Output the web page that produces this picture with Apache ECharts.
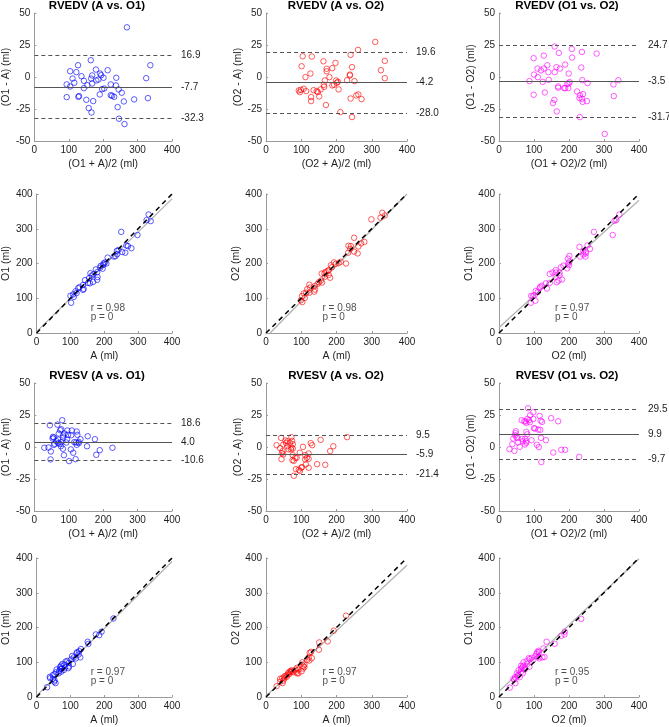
<!DOCTYPE html>
<html lang="en">

<head>
    <meta charset="UTF-8">
    <title>RVEDV / RVESV agreement</title>
    <style>
        body { margin: 0; background: #fff; }
        #main { width: 669px; height: 727px; }
    </style>
</head>

<body>
    <div id="main"></div>

    <script src="https://cdn.jsdelivr.net/npm/echarts/dist/echarts.min.js"></script>
    <script>
        // ---- data ----
        // Bland-Altman, RVEDV: [mean, difference]
        var edvBaAO1 = [[269,38.8],[337,9.2],[127,9.2],[164,13.1],[104,4.5],[122,3.8],[179,5.8],[213,5.3],[191,2.7],[194,1.4],
            [168,1.2],[137,0.6],[111,-1.2],[165,-1.2],[201,-0.6],[238,-0.6],[325,-0.9],[144,-3],[180,-2.7],[186,-2],
            [116,-4.5],[94,-5.8],[104,-7.4],[154,-6.4],[168,-5.1],[222,-5.8],[237,-6.6],[144,-8.7],[203,-9],[197,-9.5],
            [245,-9.7],[254,-12.3],[190,-13.6],[222,-14.2],[226,-14.7],[232,-15.5],[130,-14.9],[128,-15.5],[94,-15.7],[330,-16.5],
            [290,-17.5],[151,-17.8],[171,-18.8],[260,-19.1],[158,-24.3],[242,-23.5],[166,-27.7],[246,-32.6],[262,-36.8]];
        var edvBaAO2 = [[310,27.4],[261,21.2],[240,17.3],[337,12.6],[104,16.2],[130,16],[163,12.3],[197,11],[101,8.4],[244,7.7],
            [188,6.9],[326,5.3],[172,6.4],[172,4.5],[126,2.7],[238,1.9],[238,1.2],[112,-0.1],[180,-0.1],[337,-0.9],
            [167,-2.7],[230,-2.5],[199,-2.7],[204,-3.8],[251,-3.2],[201,-4.5],[164,-6.1],[188,-6.6],[193,-6.1],[165,-7.7],
            [107,-9.2],[155,-9.7],[206,-9.7],[93,-10.5],[99,-10],[135,-10.3],[114,-11],[144,-11],[147,-11.8],[96,-11.8],
            [262,-13.6],[256,-14.4],[128,-15.7],[151,-15.2],[240,-16.8],[271,-17.3],[128,-18.8],[170,-21.9],[211,-27.4],[244,-31.3]];
        var edvBaO1O2 = [[159,23.8],[208,21.9],[237,19.6],[279,18.3],[171,18.8],[128,16.7],[99,14.7],[209,15.2],[189,9.7],[138,9.2],
            [235,7.4],[164,7.7],[174,6.6],[110,6.6],[128,6.6],[120,5.1],[141,3.8],[159,3.8],[199,2.7],[100,1.9],
            [111,-0.1],[142,-2.2],[238,-2.5],[341,-2.5],[87,-3.2],[125,-3.8],[202,-4],[199,-5.1],[253,-4.8],[195,-5.3],
            [327,-5.8],[169,-7.4],[169,-8.4],[186,-8.7],[189,-8.7],[198,-8.7],[131,-12.1],[223,-11.3],[240,-13.4],[231,-14.2],
            [99,-13.9],[328,-14.9],[230,-16.5],[237,-17],[158,-17.8],[251,-18.8],[239,-19.4],[154,-20.4],[165,-26.9],[231,-31.3],
            [302,-44.5]];

        // Scatter, RVEDV: [x, y]
        var edvAO1 = [[250,291],[331,341],[325,325],[337,322],[298,282],[280,244],[265,252],[270,250],[262,231],[253,233],
            [242,239],[237,236],[238,227],[233,221],[228,220],[210,217],[202,203],[198,200],[206,200],[195,185],
            [197,196],[189,193],[188,188],[175,183],[179,175],[159,172],[168,169],[163,165],[180,161],[179,153],
            [155,158],[167,147],[158,143],[152,144],[143,152],[137,138],[127,132],[123,129],[137,124],[139,127],
            [115,120],[118,115],[108,111],[110,104],[100,107],[102,87]];
        var edvAO2 = [[330,346],[337,338],[325,332],[299,327],[250,274],[279,262],[270,258],[262,249],[234,251],[241,250],
            [239,242],[233,231],[250,234],[260,229],[227,200],[212,205],[206,201],[193,203],[198,199],[184,195],
            [187,189],[178,181],[174,178],[169,176],[158,171],[166,172],[167,162],[182,159],[178,167],[156,151],
            [150,146],[159,145],[146,141],[138,135],[137,119],[139,125],[125,131],[123,139],[117,126],[114,116],
            [107,114],[102,106],[99,94],[103,89],[110,101],[123,116]];
        var edvO2O1 = [[344,341],[335,325],[330,323],[325,282],[271,291],[260,242],[253,252],[230,248],[241,236],[241,226],
            [248,229],[247,220],[248,234],[232,220],[201,222],[197,214],[201,205],[198,200],[200,195],[195,186],
            [184,194],[177,189],[162,181],[163,174],[173,173],[162,162],[145,170],[153,174],[173,166],[165,146],
            [170,151],[180,154],[145,144],[134,143],[137,128],[122,136],[116,129],[118,133],[111,118],[105,121],
            [97,106],[92,107],[104,93],[91,87],[101,109]];

        // Bland-Altman, RVESV: [mean, difference]
        var esvBaAO1 = [[81,20.9],[67,17.5],[45,17],[78,13.9],[75,13.1],[96,12.9],[109,12.9],[123,12.1],[71,10.5],[88,10.5],
            [125,9.5],[98,9.5],[84,9],[107,9.2],[155,8.4],[54,7.9],[57,7.4],[53,6.6],[84,7.4],[134,6.1],
            [176,6.1],[69,5.8],[95,5.8],[64,4.5],[78,3.8],[93,3.5],[129,4],[116,3.8],[121,3.5],[129,3],
            [59,2.5],[69,3],[74,2.5],[57,1.7],[123,1.7],[77,0.6],[153,0.6],[29,-0.6],[41,-0.4],[227,-0.6],
            [106,-1.9],[83,-1.4],[48,-3.5],[190,-2.5],[113,-4.5],[86,-6.4],[180,-6.1],[47,-9.7],[120,-9.5],[101,-11]];
        var esvBaAO2 = [[230,7.7],[155,5.6],[43,7.1],[72,7.7],[127,3],[131,1.4],[30,1.4],[55,5.1],[61,4.5],[74,4.8],
            [68,3.2],[57,3.2],[49,1.9],[76,2.2],[60,0.6],[105,0.1],[191,0.6],[72,-0.4],[76,-1.2],[40,-0.9],
            [64,-1.9],[71,-1.9],[47,-3.2],[182,-3.2],[45,-4.8],[96,-4.5],[121,-5.1],[49,-5.8],[76,-6.4],[111,-6.4],
            [116,-8.4],[87,-8.4],[83,-8.4],[44,-9.5],[121,-9.2],[111,-9.7],[75,-10.3],[79,-10.8],[145,-13.4],[168,-13.9],
            [113,-13.6],[102,-15.7],[100,-16.2],[121,-16.2],[85,-17.3],[93,-17.8],[96,-18.8],[79,-22.5]];
        var esvBaO1O2 = [[83,30.3],[98,27.1],[89,24.8],[116,24.3],[98,21.9],[149,22.5],[169,20.1],[65,20.9],[72,20.1],[81,21.9],
            [86,20.9],[88,19.3],[78,18.8],[76,19.9],[119,20.6],[123,19.6],[100,14.7],[103,14.4],[112,13.6],[118,13.4],
            [48,12.3],[47,10.8],[78,11.8],[46,9.2],[81,10],[50,7.7],[53,7.1],[41,6.6],[120,7.1],[66,6.4],
            [75,6.4],[134,5.3],[93,5.3],[78,4.5],[55,3.5],[78,3.2],[68,4.5],[74,1.9],[108,1.7],[38,2.2],
            [114,-0.1],[59,0.1],[30,-1.7],[44,-3],[178,-2.2],[189,-2.2],[155,-4.3],[229,-7.7],[121,-11.8]];

        // Scatter, RVESV: [x, y]
        var esvAO1 = [[227,226],[192,188],[185,178],[175,180],[151,159],[153,153],[131,138],[126,132],[120,129],[118,126],
            [124,122],[105,118],[110,114],[116,111],[129,114],[91,104],[86,102],[102,108],[95,98],[107,95],
            [72,90],[76,95],[82,93],[69,86],[94,83],[84,85],[59,79],[67,75],[75,82],[57,71],
            [65,68],[53,66],[48,63],[39,58],[40,54],[48,52],[52,44],[56,40],[31,28],[71,81],
            [81,78],[96,88],[53,48],[73,73]];
        var esvAO2 = [[227,234],[192,191],[175,160],[151,157],[150,136],[128,130],[124,127],[130,112],[121,114],[117,107],
            [123,105],[109,93],[106,89],[109,86],[105,82],[103,100],[92,79],[86,73],[92,68],[88,68],
            [84,79],[71,76],[67,73],[71,72],[77,71],[66,66],[56,61],[59,58],[61,64],[52,59],
            [46,54],[52,54],[49,47],[40,44],[47,40],[30,31],[40,52],[63,69],[74,76],[101,74],
            [88,84]];
        var esvO2O1 = [[235,225],[188,188],[178,176],[187,180],[159,153],[136,159],[127,140],[130,115],[124,114],[113,116],
            [114,129],[109,129],[113,133],[107,124],[104,117],[115,111],[94,113],[88,109],[85,112],[98,107],
            [79,103],[70,100],[63,90],[69,90],[73,85],[66,85],[63,81],[73,79],[62,71],[56,77],
            [68,68],[55,64],[53,60],[46,57],[41,52],[44,50],[47,40],[31,27],[81,95],[87,87],
            [59,57],[51,68]];

        // mean and limits of agreement (A vs O1, A vs O2, O1 vs O2)
        var edvMean = [-7.7, -4.2, -3.5];
        var edvUpper = [16.9, 19.6, 24.7];
        var edvLower = [-32.3, -28.0, -31.7];
        var esvMean = [4.0, -5.9, 9.9];
        var esvUpper = [18.6, 9.5, 29.5];
        var esvLower = [-10.6, -21.4, -9.7];

        // correlation and fitted line [slope, intercept]
        var edvR = ['0.98', '0.98', '0.97'];
        var esvR = ['0.97', '0.97', '0.95'];
        var pValue = '0';
        var edvFit = [[0.955, 4], [1.03, -12], [0.915, 16]];
        var esvFit = [[0.965, 4], [0.94, 3], [0.955, 16]];

        var colors = ['#0000ff', '#ff0000', '#ff00ff'];
        var baXNames = ['(O1 + A)/2 (ml)', '(O2 + A)/2 (ml)', '(O1 + O2)/2 (ml)'];
        var baYNames = ['(O1 - A) (ml)', '(O2 - A) (ml)', '(O1 - O2) (ml)'];
        var scXNames = ['A (ml)', 'A (ml)', 'O2 (ml)'];
        var scYNames = ['O1 (ml)', 'O2 (ml)', 'O1 (ml)'];
        var pairs = ['(A vs. O1)', '(A vs. O2)', '(O1 vs. O2)'];

        // ---- layout (px) ----
        var colLeft = [33, 266, 499];
        var colWidth = [139, 141, 140];
        var titleCenter = [97, 336, 567];
        var rowTop = [13, 194, 383, 558];
        var rowHeight = [128, 139, 128, 139];
        var titleTop = [0, 0, 370, 0];

        var font = 'Liberation Sans, Arial, Helvetica, sans-serif';
        var axisGray = '#9a9a9a';
        var txt = '#1e1e1e';

        var option = {
            animation: false,
            backgroundColor: '#fff',
            textStyle: { fontFamily: font },
            title: [],
            grid: [],
            xAxis: [],
            yAxis: [],
            series: []
        };

        function makeAxis(i, min, max, step, name, isY) {
            return {
                gridIndex: i,
                type: 'value',
                min: min,
                max: max,
                interval: step,
                name: name,
                nameLocation: 'middle',
                nameGap: isY ? 21 : 18,
                nameTextStyle: { fontSize: 10.5, color: txt },
                axisLine: { show: true, onZero: false, lineStyle: { color: axisGray, width: 1 } },
                axisTick: { show: true, inside: true, length: 2, lineStyle: { color: axisGray } },
                axisLabel: { fontSize: 10, color: txt, margin: 4 },
                splitLine: { show: false }
            };
        }

        function addPanel(row, col, kind, pts, extra) {
            var i = option.grid.length;
            option.grid.push({
                left: colLeft[col], top: rowTop[row],
                width: colWidth[col], height: rowHeight[row]
            });
            var ba = kind === 'ba';
            option.xAxis.push(makeAxis(i, 0, 400, 100, ba ? baXNames[col] : scXNames[col], false));
            option.yAxis.push(ba ? makeAxis(i, -50, 50, 25, baYNames[col], true)
                                 : makeAxis(i, 0, 400, 100, scYNames[col], true));

            if (extra.title) {
                option.title.push({
                    text: extra.title,
                    left: titleCenter[col],
                    top: titleTop[row],
                    padding: 0,
                    textAlign: 'center',
                    textStyle: { fontSize: 11.5, fontWeight: 'bold', color: '#000', fontFamily: font }
                });
            }

            var pointSeries = {
                type: 'scatter',
                xAxisIndex: i, yAxisIndex: i,
                data: pts,
                symbol: 'circle',
                symbolSize: 5.5,
                silent: true,
                z: 3,
                itemStyle: { color: 'rgba(0,0,0,0)', borderColor: colors[col], borderWidth: 0.8 }
            };

            if (ba) {
                var dash = { type: [4, 3], color: '#555', width: 1 };
                pointSeries.markLine = {
                    silent: true,
                    symbol: 'none',
                    label: {
                        position: 'end',
                        distance: 9,
                        fontSize: 10,
                        color: txt,
                        formatter: function (p) { return p.value.toFixed(1); }
                    },
                    data: [
                        { yAxis: extra.mean, lineStyle: { type: 'solid', color: '#555', width: 1.2 } },
                        { yAxis: extra.upper, lineStyle: dash },
                        { yAxis: extra.lower, lineStyle: dash }
                    ]
                };
                option.series.push(pointSeries);
            } else {
                option.series.push(pointSeries);
                // regression line, clipped to the axis box
                var a = extra.fit[0], b = extra.fit[1];
                var x0 = b < 0 ? -b / a : 0;
                option.series.push({
                    type: 'line', xAxisIndex: i, yAxisIndex: i,
                    data: [[x0, a * x0 + b], [400, Math.min(400, a * 400 + b)]],
                    symbol: 'none', silent: true, z: 2,
                    lineStyle: { color: '#b0b0b0', width: 1.2 }
                });
                // identity line
                option.series.push({
                    type: 'line', xAxisIndex: i, yAxisIndex: i,
                    data: [[0, 0], [400, 400]],
                    symbol: 'none', silent: true, z: 4,
                    lineStyle: { color: '#000', width: 1.5, type: [5, 4] }
                });
                // r / p annotation
                option.series.push({
                    type: 'scatter', xAxisIndex: i, yAxisIndex: i,
                    symbolSize: 0, silent: true,
                    data: [
                        { value: [160, 71], name: 'r = ' + extra.r },
                        { value: [160, 45], name: 'p = ' + pValue }
                    ],
                    label: { show: true, position: 'right', distance: 0, formatter: '{b}', fontSize: 10, color: txt }
                });
            }
        }

        for (var c = 0; c < 3; c++) {
            var edvBa = [edvBaAO1, edvBaAO2, edvBaO1O2][c];
            var edvSc = [edvAO1, edvAO2, edvO2O1][c];
            var esvBa = [esvBaAO1, esvBaAO2, esvBaO1O2][c];
            var esvSc = [esvAO1, esvAO2, esvO2O1][c];
            addPanel(0, c, 'ba', edvBa, { title: 'RVEDV ' + pairs[c], mean: edvMean[c], upper: edvUpper[c], lower: edvLower[c] });
            addPanel(1, c, 'sc', edvSc, { r: edvR[c], fit: edvFit[c] });
            addPanel(2, c, 'ba', esvBa, { title: 'RVESV ' + pairs[c], mean: esvMean[c], upper: esvUpper[c], lower: esvLower[c] });
            addPanel(3, c, 'sc', esvSc, { r: esvR[c], fit: esvFit[c] });
        }

        var chart = echarts.init(document.getElementById('main'));
        chart.setOption(option);
    </script>
</body>

</html>
